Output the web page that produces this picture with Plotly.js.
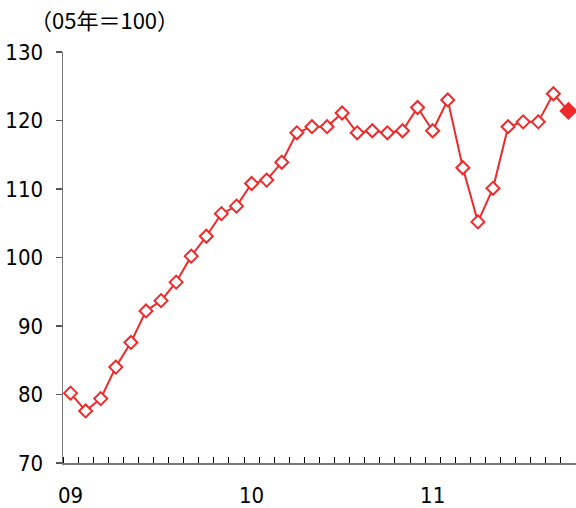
<!DOCTYPE html>
<html>
<head>
<meta charset="utf-8">
<script src="https://cdn.plot.ly/plotly-3.0.1.min.js"></script>
<style>html,body{margin:0;padding:0;background:#fff;}#chart{width:576px;height:508px;}</style>
</head>
<body>
<div id="chart"></div>
<script>
// Monthly index (2005 = 100), Jan 2009 – Oct 2011
const months = [
  '2009-01','2009-02','2009-03','2009-04','2009-05','2009-06','2009-07','2009-08','2009-09','2009-10','2009-11','2009-12',
  '2010-01','2010-02','2010-03','2010-04','2010-05','2010-06','2010-07','2010-08','2010-09','2010-10','2010-11','2010-12',
  '2011-01','2011-02','2011-03','2011-04','2011-05','2011-06','2011-07','2011-08','2011-09','2011-10'
];
const values = [
  80.2, 77.6, 79.4, 84.0, 87.6, 92.2, 93.7, 96.4, 100.2, 103.1, 106.4, 107.5,
  110.8, 111.3, 113.9, 118.2, 119.1, 119.1, 121.1, 118.2, 118.5, 118.2, 118.5, 121.9,
  118.5, 123.0, 113.1, 105.2, 110.1, 119.1, 119.8, 119.8, 123.9, 121.4
];
// last point is a forecast (filled marker)
const forecastFrom = '2011-10';
const yearTickMonths = ['2009-01','2010-01','2011-01'];
const yearTickLabels = ['09','10','11'];
const titleText = '（05年＝100）';

const RED = '#ee2a2a';
const idx = months.map((m, i) => i);
const fIdx = months.indexOf(forecastFrom);
const fills = months.map((m, i) => i >= fIdx ? RED : '#ffffff');
const sizes = months.map((m, i) => i >= fIdx ? 12 : 10);
const tickPos = yearTickMonths.map(m => months.indexOf(m));

const FONT = '"DejaVu Sans Condensed", "Noto Sans CJK JP", sans-serif';

const trace = {
  x: idx, y: values, type: 'scatter', mode: 'lines+markers',
  line: {color: RED, width: 2},
  marker: {symbol: 'diamond', size: sizes, opacity: 1, color: fills, line: {color: RED, width: 2}},
  cliponaxis: false, hoverinfo: 'skip'
};

const layout = {
  width: 576, height: 508,
  margin: {l: 63, r: 0, t: 52, b: 45},
  paper_bgcolor: '#fff', plot_bgcolor: '#fff',
  showlegend: false,
  font: {family: FONT, color: '#000', size: 22},
  title: {text: titleText, x: 30/576, xanchor: 'left', xref: 'container', y: 1 - 21/508, yanchor: 'middle', yref: 'container',
          font: {family: '"Noto Sans CJK JP", sans-serif', size: 22, color: '#000'}},
  xaxis: {
    range: [-0.5, months.length - 0.5], zeroline: false, showgrid: false,
    showline: true, linecolor: '#777', linewidth: 1.5,
    tickvals: tickPos, ticktext: yearTickLabels, ticks: '', ticklabelstandoff: 12,
    tickfont: {family: FONT, size: 22, color: '#000'},
    minor: {tick0: -0.5, dtick: 1, ticks: 'inside', ticklen: 6, tickcolor: '#000', tickwidth: 1, showgrid: false}
  },
  yaxis: {
    range: [70, 130], dtick: 10, zeroline: false, showgrid: false,
    showline: true, linecolor: '#777', linewidth: 1.5,
    ticks: 'outside', ticklen: 6, tickcolor: '#555', tickwidth: 1.5, ticklabelstandoff: 8,
    tickfont: {family: FONT, size: 22, color: '#000'}
  }
};

Plotly.newPlot('chart', [trace], layout, {staticPlot: true, displayModeBar: false});
</script>
</body>
</html>
